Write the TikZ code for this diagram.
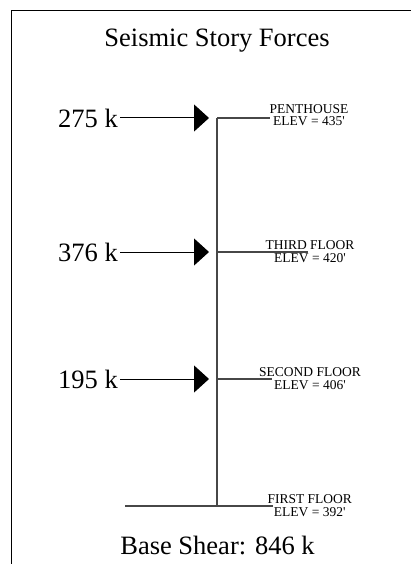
\documentclass[tikz,border=0pt]{standalone}
\usepackage{fontspec}
\setmainfont{Liberation Serif}
\usetikzlibrary{arrows.meta}
\tikzset{
  big/.style={font=\fontsize{26.5}{30}\selectfont, inner sep=0pt},
  force/.style={font=\fontsize{26.5}{30}\selectfont, inner sep=2pt, anchor=east},
  floorlabel/.style={font=\fontsize{13.5}{12.7}\selectfont, align=center, inner sep=0pt, anchor=center},
  forcearrow/.style={line width=1pt, black, -{Triangle[length=15pt,width=27pt]}},
  column/.style={line width=1.4pt, black!72},
  floorline/.style={line width=1.1pt, black!72},
  frame/.style={line width=1.6pt, black}
}
\begin{document}
\begin{tikzpicture}[x=1pt,y=-1pt]
\useasboundingbox (0,0) rectangle (411,564);
% frame (partially visible)
\draw[frame] (11.5,564) -- (11.5,10.5) -- (411,10.5);
% title
\node[big, anchor=base] (title) at (217,46.5) {Seismic Story Forces};
% column points
\coordinate (ph) at (217,118);
\coordinate (tf) at (217,252);
\coordinate (sf) at (217,379);
\coordinate (ff) at (217,506);
\draw[column] (ph) -- (ff);
% floor lines
\coordinate (phE) at (270,118);
\coordinate (tfE) at (308,252);
\coordinate (sfE) at (272,379);
\coordinate (ffW) at (125,506);
\coordinate (ffE) at (273,506);
\draw[floorline] (ph) -- (phE);
\draw[floorline] (tf) -- (tfE);
\draw[floorline] (sf) -- (sfE);
\draw[floorline] (ffW) -- (ffE);
% floor labels
\node[floorlabel] (lph) at (309,115) {PENTHOUSE\\ELEV = 435\textquotesingle};
\node[floorlabel] (ltf) at (310,251.7) {THIRD FLOOR\\ELEV = 420\textquotesingle};
\node[floorlabel] (lsf) at (310,378.3) {SECOND FLOOR\\ELEV = 406\textquotesingle};
\node[floorlabel] (lff) at (309.7,505.3) {FIRST FLOOR\\ELEV = 392\textquotesingle};
% forces
\node[force] (f1) at (120,118) {275 k};
\node[force] (f2) at (120,252) {376 k};
\node[force] (f3) at (120,379) {195 k};
\coordinate (t1) at (209,118);
\coordinate (t2) at (209,252);
\coordinate (t3) at (209,379);
\draw[forcearrow] (f1.east) -- (t1);
\draw[forcearrow] (f2.east) -- (t2);
\draw[forcearrow] (f3.east) -- (t3);
% base shear
\node[big, anchor=base] (bs) at (217.5,554) {Base Shear: 846 k};
\end{tikzpicture}
\end{document}
